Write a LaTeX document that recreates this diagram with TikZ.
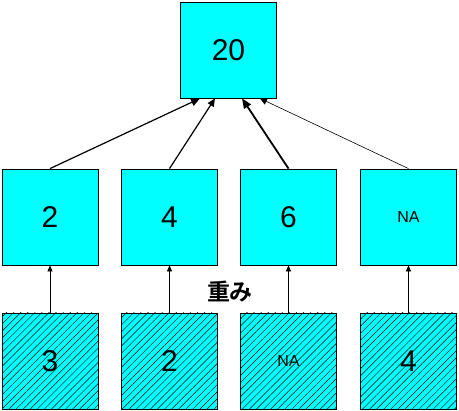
\documentclass[tikz,border=0pt]{standalone}
\usepackage{fontspec}
\setmainfont{Liberation Sans}
\newfontfamily\jpfont{Noto Sans CJK JP Bold}
\usepackage{xcolor}
\usetikzlibrary{arrows.meta,patterns.meta}
\definecolor{celeste}{RGB}{0,255,255}

\begin{document}
\begin{tikzpicture}[x=1pt,y=-1pt]
      % Definición de estilos
      \tikzstyle{caja}=[draw, line width=0.8pt, fill=celeste, minimum width=96pt, minimum height=96pt, inner sep=0pt, font=\fontsize{30}{30}\selectfont]
      \tikzstyle{peso}=[draw, line width=0.8pt, preaction={fill=celeste}, pattern={Lines[angle=45,distance=5pt,line width=0.45pt]}, minimum width=96pt, minimum height=96pt, inner sep=0pt, font=\fontsize{30}{30}\selectfont]
      \tikzstyle{flecha}=[line width=0.6pt, -{Triangle[length=6pt,width=5pt]}]
      \useasboundingbox (0,0) rectangle (459,411);

      % Nodo superior
      \node[caja] (total) at (228.5,50) {20};

      % Nodos intermedios
      \node[caja] (m1) at (50,217) {2};
      \node[caja] (m2) at (169.5,217) {4};
      \node[caja] (m3) at (288.5,217) {6};
      \node[caja] (m4) at (408.5,217) {\fontsize{16}{16}\selectfont NA};

      % Nodos de pesos
      \node[peso] (p1) at (50,361) {3};
      \node[peso] (p2) at (169.5,361) {2};
      \node[peso] (p3) at (288.5,361) {\fontsize{16}{16}\selectfont NA};
      \node[peso] (p4) at (408.5,361) {4};

      % Conexiones
      \draw[line width=1.2pt, -{Triangle[length=9pt,width=8pt]}] (m1.north) -- ([xshift=-28.5pt]total.south);
      \draw[line width=1.2pt, -{Triangle[length=8pt,width=7pt]}] (m2.north) -- ([xshift=-13.5pt]total.south);
      \draw[line width=1.8pt, -{Triangle[length=10pt,width=8pt]}] (m3.north) -- ([xshift=13.5pt]total.south);
      \draw[line width=0.6pt, -{Triangle[length=7pt,width=7pt]}] (m4.north) -- ([xshift=31.5pt]total.south);
      \draw[flecha] (p1) -- (m1);
      \draw[flecha] (p2) -- (m2);
      \draw[flecha] (p3) -- (m3);
      \draw[flecha] (p4) -- (m4);

      % Etiqueta
      \node[font=\jpfont\fontsize{23}{23}\selectfont] (etiqueta) at (230,292) {重み};
    \end{tikzpicture}
\end{document}
